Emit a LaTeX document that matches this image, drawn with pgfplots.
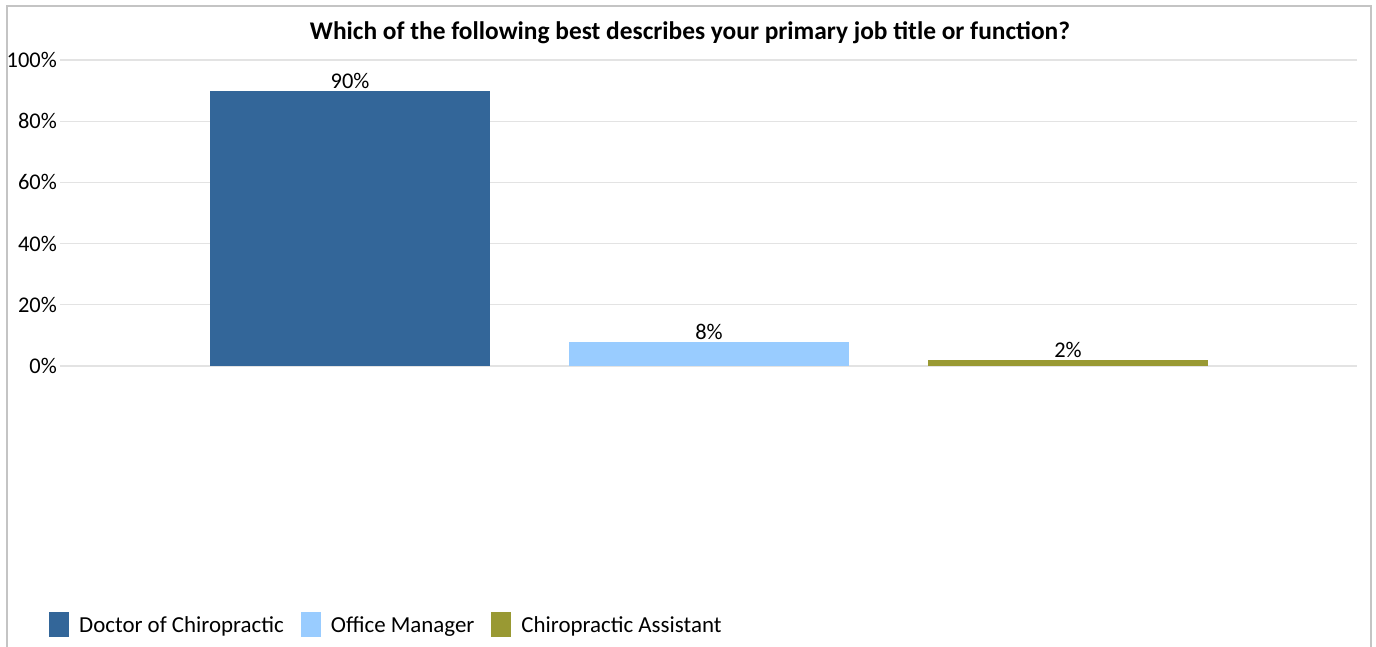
\documentclass[border=0pt]{standalone}
\usepackage{pgfplots}
\pgfplotsset{compat=1.18}
\usepackage{fontspec}
\setmainfont{Carlito}
\definecolor{c1}{HTML}{336699}
\definecolor{c2}{HTML}{99CCFF}
\definecolor{c3}{HTML}{999933}
\definecolor{gridc}{HTML}{E3E3E3}
\definecolor{framec}{HTML}{C4C4C4}
\begin{document}
\begin{tikzpicture}[x=1bp,y=1bp]
\useasboundingbox (0,0) rectangle (1376,647);
\draw[framec, line width=2bp] (7,-10) -- (7,641) -- (1371,641) -- (1371,-10);
\node[font=\bfseries\fontsize{25.5}{30}\selectfont] at (690,614) {Which of the following best describes your primary job title or function?};
\begin{axis}[
  at={(60bp,281bp)}, anchor=south west,
  scale only axis, width=1297bp, height=306bp,
  xmin=-0.808, xmax=2.805, ymin=0, ymax=100,
  axis line style={draw=none},
  xtick=\empty,
  ytick={0,20,40,60,80,100},
  yticklabel={\pgfmathprintnumber{\tick}\%},
  /pgf/number format/assume math mode=true,
  ymajorgrids, grid style={gridc, line width=1.2bp},
  major tick length=0pt,
  tick label style={font=\fontsize{22.5}{26}\selectfont},
  yticklabel style={inner sep=0pt, xshift=-3bp},
  ybar, bar width=280bp, bar shift=0pt,
  nodes near coords={\pgfmathprintnumber{\pgfplotspointmeta}\%},
  nodes near coords style={font=\fontsize{22.5}{26}\selectfont, inner sep=2bp, black},
  legend columns=3,
  legend image code/.code={\fill[#1] (0bp,-12.5bp) rectangle (20bp,12.5bp);},
  legend style={at={(-0.0085,-0.846)}, anchor=west, draw=none, fill=none,
    inner sep=0pt, font=\fontsize{23}{27}\selectfont,
    nodes={inner sep=0pt},
    /tikz/every odd column/.append style={column sep=10bp},
    /tikz/every even column/.append style={column sep=17bp}},
  legend cell align=left,
]
\addplot[fill=c1, draw=none] coordinates {(0,90)};
\addplot[fill=c2, draw=none] coordinates {(1,8)};
\addplot[fill=c3, draw=none] coordinates {(2,2)};
\legend{Doctor of Chiropractic, Office Manager, Chiropractic Assistant}
\end{axis}
\end{tikzpicture}
\end{document}
